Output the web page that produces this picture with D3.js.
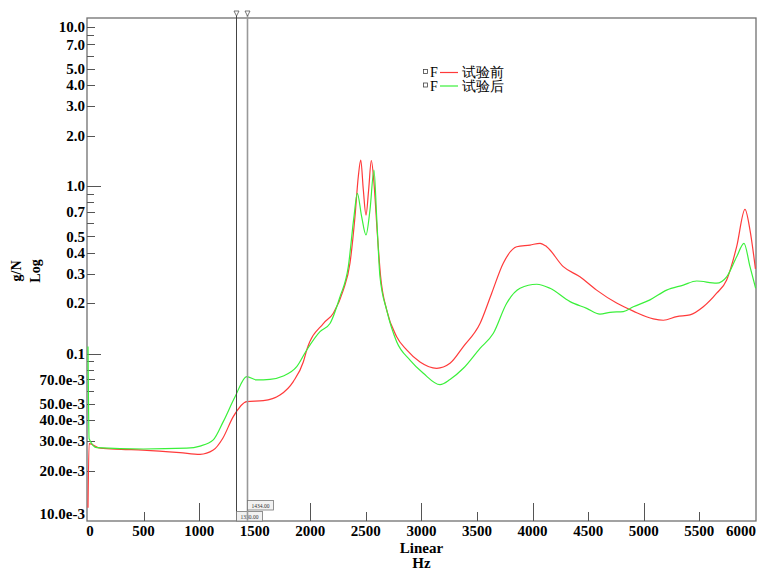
<!DOCTYPE html>
<html>
<head>
<meta charset="utf-8">
<script src="https://cdn.jsdelivr.net/npm/d3@7"></script>
<style>
  body { margin: 0; background: #fff; }
  svg text { font-family: 'Liberation Serif', 'DejaVu Serif', serif; }
</style>
</head>
<body>
<div id="chart"></div>
<script>
// 试验前 (before test)
let freqBefore = [0, 10, 110, 300, 495, 828, 1008, 1127, 1213, 1307, 1428, 1577, 1727, 1847, 1937, 1968,
  2117, 2207, 2297, 2357, 2402, 2432, 2454, 2477, 2501, 2525, 2549, 2573, 2603, 2633, 2687, 2777, 2867,
  2987, 3137, 3257, 3377, 3527, 3632, 3736, 3857, 3977, 4067, 4127, 4276, 4426, 4576, 4756, 4906, 5086,
  5176, 5297, 5416, 5536, 5656, 5746, 5836, 5911, 5956, 6005]
let magBefore = [0.012, 0.029, 0.0272, 0.0268, 0.0265, 0.0256, 0.025, 0.0265, 0.0312, 0.042, 0.0516, 0.0523,
  0.0565, 0.068, 0.089, 0.105, 0.151, 0.174, 0.239, 0.346, 0.656, 1.14, 1.43, 0.95, 0.67, 0.95, 1.42, 1.04,
  0.52, 0.287, 0.182, 0.126, 0.105, 0.089, 0.0816, 0.0874, 0.110, 0.151, 0.229, 0.346, 0.434, 0.444, 0.455,
  0.434, 0.330, 0.287, 0.239, 0.200, 0.179, 0.161, 0.158, 0.166, 0.170, 0.190, 0.229, 0.275, 0.434, 0.726,
  0.546, 0.32]

// 试验后 (after test)
let freqAfter = [0, 10, 80, 498, 888, 1008, 1127, 1217, 1323, 1428, 1518, 1637, 1757, 1878, 1968, 2087, 2177,
  2267, 2342, 2393, 2423, 2462, 2501, 2537, 2573, 2597, 2627, 2687, 2777, 2897, 3017, 3167, 3257, 3377,
  3527, 3647, 3767, 3887, 4037, 4157, 4337, 4487, 4606, 4697, 4816, 4906, 5056, 5206, 5356, 5476, 5656,
  5746, 5836, 5902, 5956, 6007]
let magAfter = [0.11, 0.031, 0.0274, 0.0269, 0.0272, 0.028, 0.0305, 0.0392, 0.0552, 0.0727, 0.0695, 0.0701,
  0.0734, 0.0834, 0.105, 0.135, 0.151, 0.218, 0.330, 0.656, 0.904, 0.656, 0.510, 0.719, 1.246, 0.656,
  0.287, 0.182, 0.1176, 0.0914, 0.0762, 0.0652, 0.070, 0.0816, 0.1074, 0.132, 0.1995, 0.245, 0.259, 0.245,
  0.204, 0.186, 0.172, 0.176, 0.178, 0.190, 0.209, 0.239, 0.256, 0.271, 0.263, 0.287, 0.378, 0.455, 0.330,
  0.245]

let seriesNames = ['试验前', '试验后']
let seriesColors = ['#ff3a3a', '#3af03a']

let xMajorTicks = [0, 500, 1000, 1500, 2000, 2500, 3000, 3500, 4000, 4500, 5000, 5500, 6000]
let yLabelTicks = [10, 7, 5, 4, 3, 2, 1, 0.7, 0.5, 0.4, 0.3, 0.2, 0.1, 0.07, 0.05, 0.04, 0.03, 0.02, 0.01]
let yLabelText = ['10.0', '7.0', '5.0', '4.0', '3.0', '2.0', '1.0', '0.7', '0.5', '0.4', '0.3', '0.2', '0.1',
  '70.0e-3', '50.0e-3', '40.0e-3', '30.0e-3', '20.0e-3', '10.0e-3']
let yMinorTicks = [8, 6, 0.9, 0.8, 0.6, 0.09, 0.08, 0.06]

let cursorHz = [1330, 1434]
let cursorText = ['1330.00', '1434.00']

let width = 761
let height = 570
let plotLeft = 87, plotRight = 756, plotTop = 18, plotBottom = 521

let svg = d3
  .select('#chart')
  .append('svg')
  .attr('width', width)
  .attr('height', height)

let x = d3.scaleLinear().domain([0, 6010]).range([88, plotRight])
let y = d3.scaleLog().domain([0.01, 10]).range([plotBottom, plotTop + 0.5])

svg.append('defs').append('clipPath').attr('id', 'clip')
  .append('rect')
  .attr('x', plotLeft).attr('y', plotTop)
  .attr('width', plotRight - plotLeft).attr('height', plotBottom - plotTop)

// frame
svg.append('rect')
  .attr('x', plotLeft).attr('y', plotTop)
  .attr('width', plotRight - plotLeft).attr('height', plotBottom - plotTop)
  .attr('fill', 'none')
  .attr('stroke', '#707070')
  .attr('stroke-width', 1.3)

// x ticks (inside, pointing up)
svg.selectAll('.xtick')
  .data(xMajorTicks.filter(d => d > 0 && d < 6000))
  .enter()
  .append('line')
  .attr('class', 'xtick')
  .attr('x1', d => Math.round(x(d)) + 0.5)
  .attr('x2', d => Math.round(x(d)) + 0.5)
  .attr('y1', plotBottom)
  .attr('y2', d => d % 1000 === 0 ? plotBottom - 18 : plotBottom - 9)
  .attr('stroke', '#555')

svg.selectAll('.xlabel')
  .data(xMajorTicks)
  .enter()
  .append('text')
  .attr('class', 'xlabel')
  .attr('x', d => Math.min(Math.max(x(d), 90), plotRight - 15))
  .attr('y', plotBottom + 14.5)
  .attr('text-anchor', 'middle')
  .attr('font-size', 15)
  .attr('font-weight', 'bold')
  .text(d => d)

svg.append('text')
  .attr('x', (plotLeft + plotRight) / 2)
  .attr('y', 553)
  .attr('text-anchor', 'middle')
  .attr('font-size', 15)
  .attr('font-weight', 'bold')
  .text('Linear')

svg.append('text')
  .attr('x', (plotLeft + plotRight) / 2)
  .attr('y', 568)
  .attr('text-anchor', 'middle')
  .attr('font-size', 15)
  .attr('font-weight', 'bold')
  .text('Hz')

// y ticks (inside, pointing right)
svg.selectAll('.ytick')
  .data(yLabelTicks.filter(d => d > 0.01))
  .enter()
  .append('line')
  .attr('class', 'ytick')
  .attr('x1', plotLeft)
  .attr('x2', d => (d === 1 || d === 0.1) ? plotLeft + 14 : plotLeft + 8)
  .attr('y1', d => Math.round(Math.max(y(d), plotTop + 8.5)) + 0.5)
  .attr('y2', d => Math.round(Math.max(y(d), plotTop + 8.5)) + 0.5)
  .attr('stroke', '#555')

svg.selectAll('.yminor')
  .data(yMinorTicks)
  .enter()
  .append('line')
  .attr('class', 'yminor')
  .attr('x1', plotLeft)
  .attr('x2', plotLeft + 7)
  .attr('y1', d => Math.round(y(d)) + 0.5)
  .attr('y2', d => Math.round(y(d)) + 0.5)
  .attr('stroke', '#555')

svg.selectAll('.ylabel')
  .data(yLabelTicks)
  .enter()
  .append('text')
  .attr('class', 'ylabel')
  .attr('x', plotLeft - 2)
  .attr('y', d => Math.min(Math.max(y(d), plotTop + 9), plotBottom - 7))
  .attr('dy', '0.35em')
  .attr('text-anchor', 'end')
  .attr('font-size', 15)
  .attr('font-weight', 'bold')
  .text((d, i) => yLabelText[i])

svg.append('text')
  .attr('transform', 'translate(21,271) rotate(-90)')
  .attr('text-anchor', 'middle')
  .attr('font-size', 14)
  .attr('font-weight', 'bold')
  .text('g/N')

svg.append('text')
  .attr('transform', 'translate(40,271) rotate(-90)')
  .attr('text-anchor', 'middle')
  .attr('font-size', 14)
  .attr('font-weight', 'bold')
  .text('Log')

// curves
let line = d3.line()
  .x(d => x(d[0]))
  .y(d => y(d[1]))
  .curve(d3.curveMonotoneX)

let series = [
  d3.zip(freqBefore, magBefore),
  d3.zip(freqAfter, magAfter)
]

svg.selectAll('.curve')
  .data(series)
  .enter()
  .append('path')
  .attr('class', 'curve')
  .attr('clip-path', 'url(#clip)')
  .attr('d', line)
  .attr('fill', 'none')
  .attr('stroke', (d, i) => seriesColors[i])
  .attr('stroke-width', 1.2)

// cursors
let cursorColors = ['#444', '#999']
let cursorWidths = [1, 1.6]

cursorHz.forEach((hz, i) => {
  let cx = Math.round(x(hz)) + 0.5
  svg.append('line')
    .attr('x1', cx).attr('x2', cx)
    .attr('y1', 15).attr('y2', plotBottom)
    .attr('stroke', cursorColors[i])
    .attr('stroke-width', cursorWidths[i])
  svg.append('path')
    .attr('d', `M${cx - 2.5},11 L${cx + 2.5},11 L${cx},16 Z`)
    .attr('fill', '#fff')
    .attr('stroke', '#555')
    .attr('stroke-width', 0.8)
  let by = i === 0 ? 511.5 : 500.5
  svg.append('rect')
    .attr('x', cx).attr('y', by)
    .attr('width', 26).attr('height', 9.5)
    .attr('fill', '#f2f2f2')
    .attr('stroke', '#777')
    .attr('stroke-width', 0.8)
  svg.append('text')
    .attr('x', cx + 13).attr('y', by + 7)
    .attr('text-anchor', 'middle')
    .attr('font-family', 'DejaVu Sans')
    .attr('font-size', 5.5)
    .attr('fill', '#333')
    .text(cursorText[i])
})

// legend
let legend = svg.selectAll('.legend')
  .data(seriesNames)
  .enter()
  .append('g')
  .attr('class', 'legend')
  .attr('transform', (d, i) => `translate(0,${72 + i * 13.5})`)

legend.append('rect')
  .attr('x', 423.5).attr('y', -2.5)
  .attr('width', 4).attr('height', 4)
  .attr('fill', '#fff')
  .attr('stroke', '#444')
  .attr('stroke-width', 0.8)

legend.append('text')
  .attr('x', 430).attr('y', 5)
  .attr('font-size', 14)
  .text('F')

legend.append('line')
  .attr('x1', 440).attr('x2', 458)
  .attr('y1', 0.5).attr('y2', 0.5)
  .attr('stroke', (d, i) => seriesColors[i])
  .attr('stroke-width', 1.2)

legend.append('text')
  .attr('x', 462).attr('y', 5)
  .attr('font-size', 14)
  .attr('font-family', "'Noto Sans CJK SC', sans-serif")
  .text(d => d)
</script>
</body>
</html>
